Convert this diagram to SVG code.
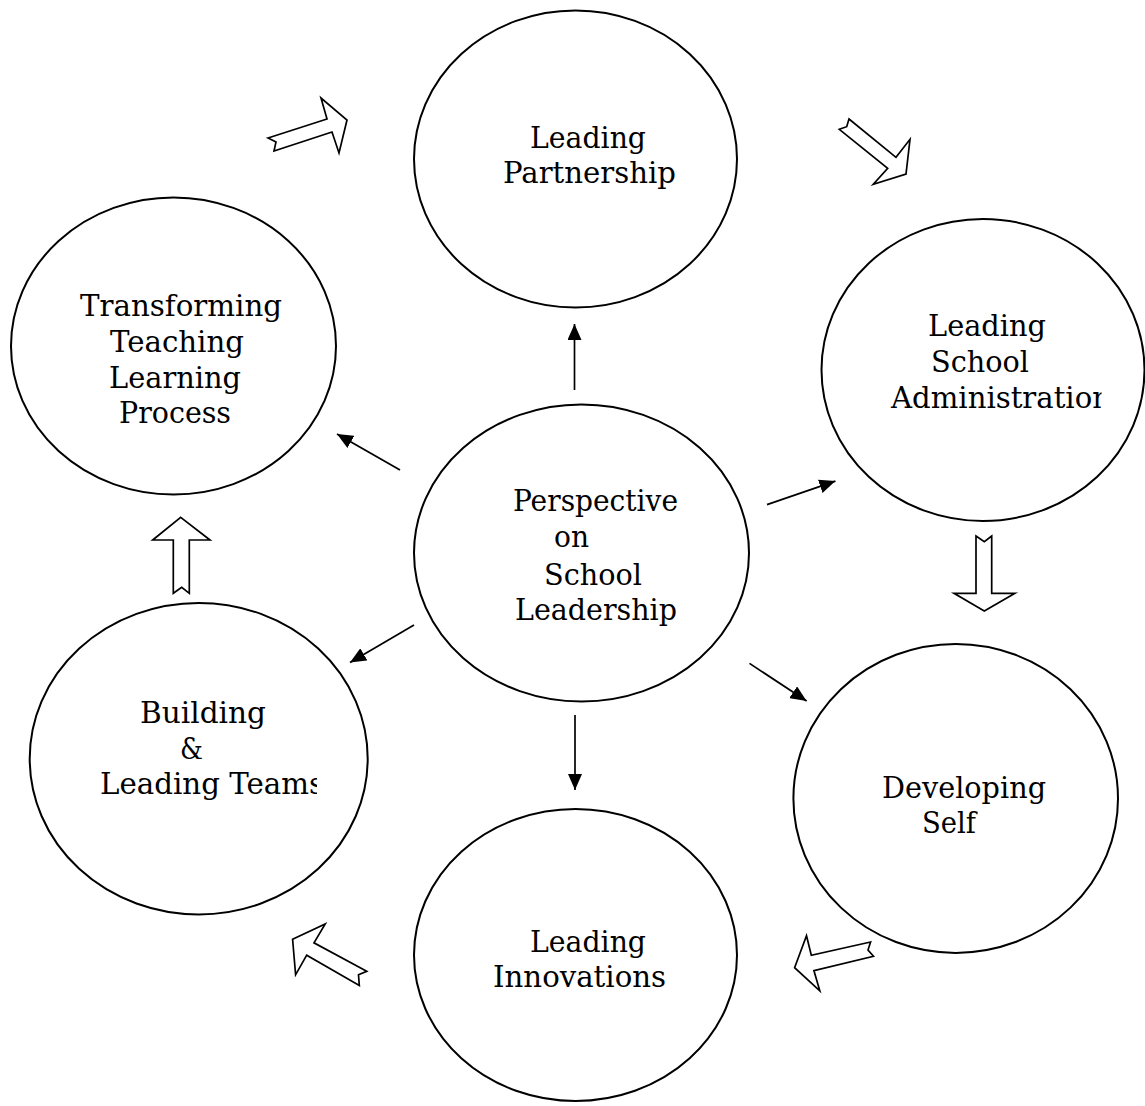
<svg xmlns="http://www.w3.org/2000/svg" width="1145" height="1106" viewBox="0 0 1145 1106">
<style>
.node{fill:#fff;stroke:#000;stroke-width:2}
.lbl{font-family:"DejaVu Serif","Liberation Serif",serif;font-size:29px;fill:#000}
.con{stroke:#000;stroke-width:1.7;fill:none}
.blk{fill:#fff;stroke:#000;stroke-width:1.7;stroke-linejoin:miter}
</style>
<defs>
<marker id="ah" markerUnits="userSpaceOnUse" markerWidth="16" markerHeight="14" refX="16" refY="7" orient="auto">
<path d="M0,0 L16,7 L0,14 z" fill="#000"/>
</marker>
<clipPath id="clipAdmin"><rect x="800" y="370" width="301.5" height="60"/></clipPath>
<clipPath id="clipTeams"><rect x="80" y="760" width="237" height="50"/></clipPath>
</defs>
<rect width="1145" height="1106" fill="#fff"/>

<g id="node-partnership">
<ellipse class="node" cx="575.5" cy="159" rx="161.5" ry="148.5"/>
<text class="lbl" x="530" y="148" textLength="116" lengthAdjust="spacingAndGlyphs">Leading</text>
<text class="lbl" x="503" y="183" textLength="173" lengthAdjust="spacingAndGlyphs">Partnership</text>
</g>

<g id="node-transforming">
<ellipse class="node" cx="173.5" cy="346" rx="162.5" ry="148.5"/>
<text class="lbl" x="80" y="316" textLength="202" lengthAdjust="spacingAndGlyphs">Transforming</text>
<text class="lbl" x="110" y="352" textLength="134" lengthAdjust="spacingAndGlyphs">Teaching</text>
<text class="lbl" x="109" y="388" textLength="132" lengthAdjust="spacingAndGlyphs">Learning</text>
<text class="lbl" x="119" y="423" textLength="112" lengthAdjust="spacingAndGlyphs">Process</text>
</g>

<g id="node-administration">
<ellipse class="node" cx="983" cy="370" rx="161.5" ry="151"/>
<text class="lbl" x="928" y="336" textLength="118" lengthAdjust="spacingAndGlyphs">Leading</text>
<text class="lbl" x="931" y="372" textLength="98" lengthAdjust="spacingAndGlyphs">School</text>
<text class="lbl" x="891" y="407.5" textLength="220" lengthAdjust="spacingAndGlyphs" clip-path="url(#clipAdmin)">Administration</text>
</g>

<g id="node-perspective">
<ellipse class="node" cx="581.5" cy="553" rx="167.5" ry="148.5"/>
<text class="lbl" x="513" y="511" textLength="165" lengthAdjust="spacingAndGlyphs">Perspective</text>
<text class="lbl" x="554" y="547" textLength="35" lengthAdjust="spacingAndGlyphs">on</text>
<text class="lbl" x="544" y="585" textLength="98" lengthAdjust="spacingAndGlyphs">School</text>
<text class="lbl" x="515" y="620" textLength="162" lengthAdjust="spacingAndGlyphs">Leadership</text>
</g>

<g id="node-building">
<ellipse class="node" cx="198.7" cy="758.7" rx="169" ry="155.7"/>
<text class="lbl" x="140" y="723" textLength="126" lengthAdjust="spacingAndGlyphs">Building</text>
<text class="lbl" x="180" y="758.5" textLength="23" lengthAdjust="spacingAndGlyphs">&amp;</text>
<text class="lbl" x="100" y="794" textLength="224" lengthAdjust="spacingAndGlyphs" clip-path="url(#clipTeams)">Leading Teams</text>
</g>

<g id="node-developing">
<ellipse class="node" cx="955.7" cy="798.4" rx="162.3" ry="154.5"/>
<text class="lbl" x="882" y="797.5" textLength="164" lengthAdjust="spacingAndGlyphs">Developing</text>
<text class="lbl" x="922" y="833" textLength="54" lengthAdjust="spacingAndGlyphs">Self</text>
</g>

<g id="node-innovations">
<ellipse class="node" cx="575.5" cy="955" rx="161.5" ry="146"/>
<text class="lbl" x="530" y="952" textLength="116" lengthAdjust="spacingAndGlyphs">Leading</text>
<text class="lbl" x="493" y="987" textLength="173" lengthAdjust="spacingAndGlyphs">Innovations</text>
</g>

<g id="connectors">
<line class="con" x1="574.5" y1="390" x2="574.5" y2="324" marker-end="url(#ah)"/>
<line class="con" x1="400" y1="470" x2="337" y2="434" marker-end="url(#ah)"/>
<line class="con" x1="767" y1="504.6" x2="835.4" y2="481.1" marker-end="url(#ah)"/>
<line class="con" x1="749.5" y1="663.4" x2="806.6" y2="701" marker-end="url(#ah)"/>
<line class="con" x1="575" y1="715" x2="575" y2="790" marker-end="url(#ah)"/>
<line class="con" x1="414" y1="625" x2="350" y2="662.4" marker-end="url(#ah)"/>

<polygon class="blk" points="268,138 327,119 321,98 347,120 339,153 332,132 274,151 276,142"/>
<polygon class="blk" points="849,119 896,157.3 910,139.3 906,174 873.3,184.3 887.7,168.3 839.3,129.3 846.7,126.7"/>
<polygon class="blk" points="976,536 984.3,541.7 991.7,536 991.7,593.3 1015,593.3 984.3,611 954,593.3 976,593.3"/>
<polygon class="blk" points="870.6,942 811.3,955.3 806.5,935.7 794.6,967.7 819.8,990.8 813.9,970.6 873.5,956.3 868,950"/>
<polygon class="blk" points="366.7,971.3 314,942.8 325.2,924 292.6,939.3 295.6,974.8 306.7,955.2 359.3,985.5 358.5,974.8"/>
<polygon class="blk" points="180.7,517.3 210,540 189.3,540 189.3,593.3 181.7,587.3 173.3,593.3 173.3,540 152.7,540"/>
</g>
</svg>
